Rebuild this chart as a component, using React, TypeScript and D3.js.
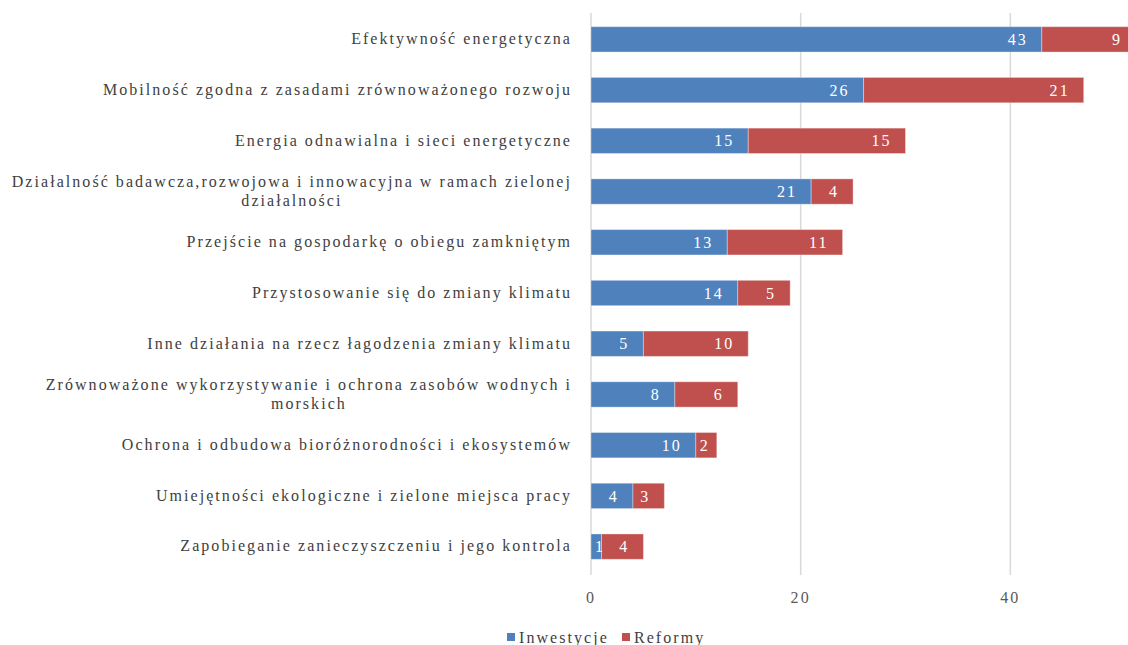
import React, { useEffect, useRef } from "react";
import * as d3 from "d3";

const categories: string[][] = [
  ["Efektywność energetyczna"],
  ["Mobilność zgodna z zasadami zrównoważonego rozwoju"],
  ["Energia odnawialna i sieci energetyczne"],
  ["Działalność badawcza,rozwojowa i innowacyjna w ramach zielonej", "działalności"],
  ["Przejście na gospodarkę o obiegu zamkniętym"],
  ["Przystosowanie się do zmiany klimatu"],
  ["Inne działania na rzecz łagodzenia zmiany klimatu"],
  ["Zrównoważone wykorzystywanie i ochrona zasobów wodnych i", "morskich"],
  ["Ochrona i odbudowa bioróżnorodności i ekosystemów"],
  ["Umiejętności ekologiczne i zielone miejsca pracy"],
  ["Zapobieganie zanieczyszczeniu i jego kontrola"],
];
const inwestycje = [43, 26, 15, 21, 13, 14, 5, 8, 10, 4, 1];
const reformy = [9, 21, 15, 4, 11, 5, 10, 6, 2, 3, 4];
const seriesNames = ["Inwestycje", "Reformy"];
const seriesColors = ["#4F81BD", "#C0504D"];
const gridTicks = [0, 20, 40, 60];
const tickLabels = [0, 20, 40];

const W = 1128;
const H = 645;
const FONT = "'Liberation Serif', 'Times New Roman', serif";
const FS = 16;
const LS = 2.05;

export default function App() {
  const ref = useRef<SVGSVGElement>(null);
  useEffect(() => {
    const svg = d3.select(ref.current);
    svg.selectAll("*").remove();
    const x = d3.scaleLinear().domain([0, 60]).range([591, 1220]);
    const keys = categories.map((_, i) => String(i));
    const y = d3.scaleBand().domain(keys).range([14, 572]).paddingInner(0.5).paddingOuter(0.25);
    const gridTop = 13, gridBottom = 575;

    svg.append("g").selectAll("line").data(gridTicks).join("line")
      .attr("x1", d => x(d)).attr("x2", d => x(d))
      .attr("y1", gridTop).attr("y2", gridBottom)
      .attr("stroke", "#D9D9D9").attr("stroke-width", 1.5);

    svg.append("g").selectAll("text").data(tickLabels).join("text")
      .attr("x", d => x(d)).attr("y", 597).attr("dy", "0.35em")
      .attr("text-anchor", "middle")
      .attr("font-family", FONT).attr("font-size", FS).attr("letter-spacing", LS)
      .attr("fill", "#595959").text(d => String(d));

    const stack = categories.map((_, i) => [
      { s: 0, x0: 0, x1: inwestycje[i], v: inwestycje[i] },
      { s: 1, x0: inwestycje[i], x1: inwestycje[i] + reformy[i], v: reformy[i] },
    ]);

    const rows = svg.append("g").selectAll("g").data(stack).join("g");
    rows.each(function (segs, i) {
      const g = d3.select(this);
      const yy = y(String(i))!;
      const bw = y.bandwidth();
      g.selectAll("rect").data(segs).join("rect")
        .attr("x", d => x(d.x0)).attr("y", yy)
        .attr("width", d => x(d.x1) - x(d.x0)).attr("height", bw)
        .attr("fill", d => seriesColors[d.s])
        .attr("stroke", "rgba(255,255,255,0.35)").attr("stroke-width", 1);
      segs.forEach(d => {
        const t = g.append("text")
          .attr("y", yy + bw / 2).attr("dy", "0.35em")
          .attr("text-anchor", "end")
          .attr("font-family", FONT).attr("font-size", FS).attr("letter-spacing", LS)
          .attr("fill", "#FFFFFF").text(String(d.v));
        const w = (t.node() as SVGTextElement).getComputedTextLength();
        const xe = Math.max(x(d.x1) - 14, x(d.x0) + 4 + w);
        t.attr("x", xe);
      });

      const lines = categories[i];
      const cy = yy + bw / 2;
      const labelRight = 572;
      if (lines.length === 1) {
        g.append("text").attr("x", labelRight).attr("y", cy).attr("dy", "0.3em")
          .attr("text-anchor", "end")
          .attr("font-family", FONT).attr("font-size", FS).attr("letter-spacing", LS)
          .attr("fill", "#404040").text(lines[0]);
      } else {
        const t1 = g.append("text").attr("x", labelRight).attr("y", cy - 9).attr("dy", "0.3em")
          .attr("text-anchor", "end")
          .attr("font-family", FONT).attr("font-size", FS).attr("letter-spacing", LS)
          .attr("fill", "#404040").text(lines[0]);
        const w1 = (t1.node() as SVGTextElement).getComputedTextLength();
        g.append("text").attr("x", labelRight - w1 / 2).attr("y", cy + 10).attr("dy", "0.3em")
          .attr("text-anchor", "middle")
          .attr("font-family", FONT).attr("font-size", FS).attr("letter-spacing", LS)
          .attr("fill", "#404040").text(lines[1]);
      }
    });

    const lg = svg.append("g");
    const legendX = [507, 622];
    seriesNames.forEach((n, i) => {
      lg.append("rect").attr("x", legendX[i]).attr("y", 633).attr("width", 8).attr("height", 8)
        .attr("fill", seriesColors[i]);
      lg.append("text").attr("x", legendX[i] + 12).attr("y", 637).attr("dy", "0.35em")
        .attr("font-family", FONT).attr("font-size", FS).attr("letter-spacing", LS)
        .attr("fill", "#404040").text(n);
    });
  }, []);
  return (
    <svg ref={ref} width={W} height={H}
      style={{ position: "absolute", left: 0, top: 0, background: "#fff", display: "block" }} />
  );
}
